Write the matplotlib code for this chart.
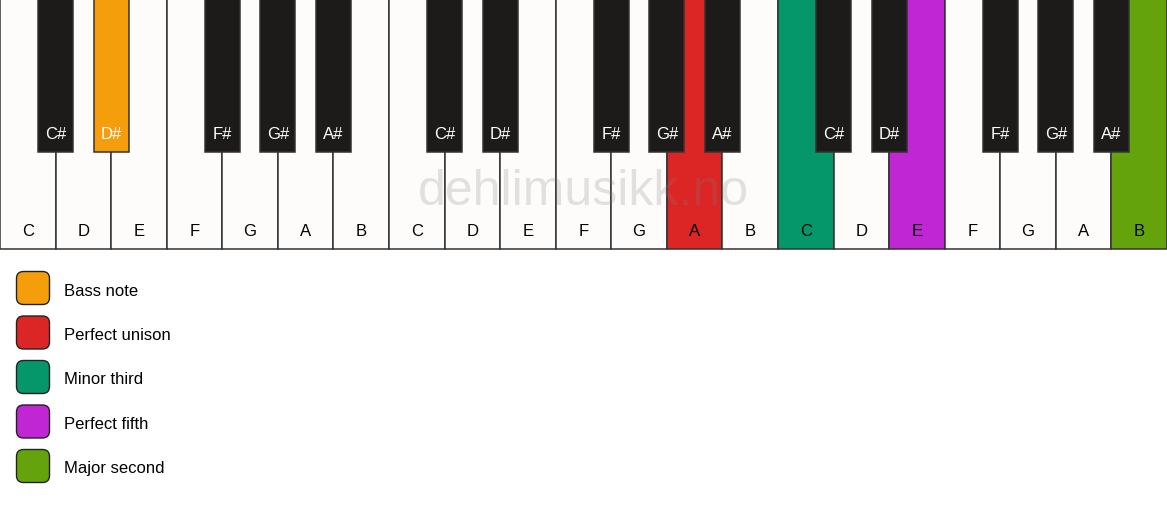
import matplotlib.pyplot as plt
from matplotlib.patches import Rectangle, FancyBboxPatch

plt.rcParams['font.family'] = ['Liberation Sans', 'DejaVu Sans']

# Data ---------------------
white_notes = ['C', 'D', 'E', 'F', 'G', 'A', 'B']
black_notes = ['C#', 'D#', 'F#', 'G#', 'A#']
black_after = [0, 1, 3, 4, 5]  # black key sits on the boundary after this white key
n_octaves = 3

# highlighted keys: (octave, note) -> colour
highlights = {
    (0, 'D#'): '#F59E0B',
    (1, 'A'): '#DC2626',
    (2, 'C'): '#059669',
    (2, 'E'): '#C026D3',
    (2, 'B'): '#65A30D',
}

legend_labels = ['Bass note', 'Perfect unison', 'Minor third', 'Perfect fifth', 'Major second']
legend_colors = ['#F59E0B', '#DC2626', '#059669', '#C026D3', '#65A30D']

# Layout (pixels) ---------------------
W, H = 1167, 506
white_w = W / (7 * n_octaves)
white_h = 250
black_w = 35
black_h = 153
white_fill = '#FDFCFA'
black_fill = '#1C1B1A'
edge = '#333333'

fig = plt.figure(figsize=(W / 100, H / 100), dpi=100)
ax = fig.add_axes([0, 0, 1, 1])
ax.set_xlim(0, W)
ax.set_ylim(H, 0)
ax.axis('off')

# White keys
for o in range(n_octaves):
    for i, note in enumerate(white_notes):
        x = (o * 7 + i) * white_w
        col = highlights.get((o, note), white_fill)
        ax.add_patch(Rectangle((x, 0), white_w, white_h, facecolor=col,
                               edgecolor=edge, linewidth=1.1, zorder=1))
        ax.text(x + white_w / 2, 231, note, ha='center', va='center',
                fontsize=12, color='black', zorder=4)

# Watermark
ax.text(583, 192, 'dehlimusikk.no', ha='center', va='center', fontsize=36,
        color='#808080', alpha=0.22, zorder=2)

# Black keys
for o in range(n_octaves):
    for note, after in zip(black_notes, black_after):
        cx = (o * 7 + after + 1) * white_w
        col = highlights.get((o, note), black_fill)
        ax.add_patch(Rectangle((cx - black_w / 2, 0), black_w, black_h, facecolor=col,
                               edgecolor=edge, linewidth=1.1, zorder=3))
        ax.text(cx, 134, note, ha='center', va='center', fontsize=12,
                color='white', zorder=4)

# Legend
for k, (lab, col) in enumerate(zip(legend_labels, legend_colors)):
    cy = 289 + k * 44.5
    ax.add_patch(FancyBboxPatch((18, cy - 15), 30, 30,
                                boxstyle='round,pad=1.5,rounding_size=7',
                                facecolor=col, edgecolor='#222222', linewidth=1.0))
    ax.text(64, cy + 2, lab, ha='left', va='center', fontsize=12, color='black')

fig.savefig('out.png', dpi=100, facecolor='white')
